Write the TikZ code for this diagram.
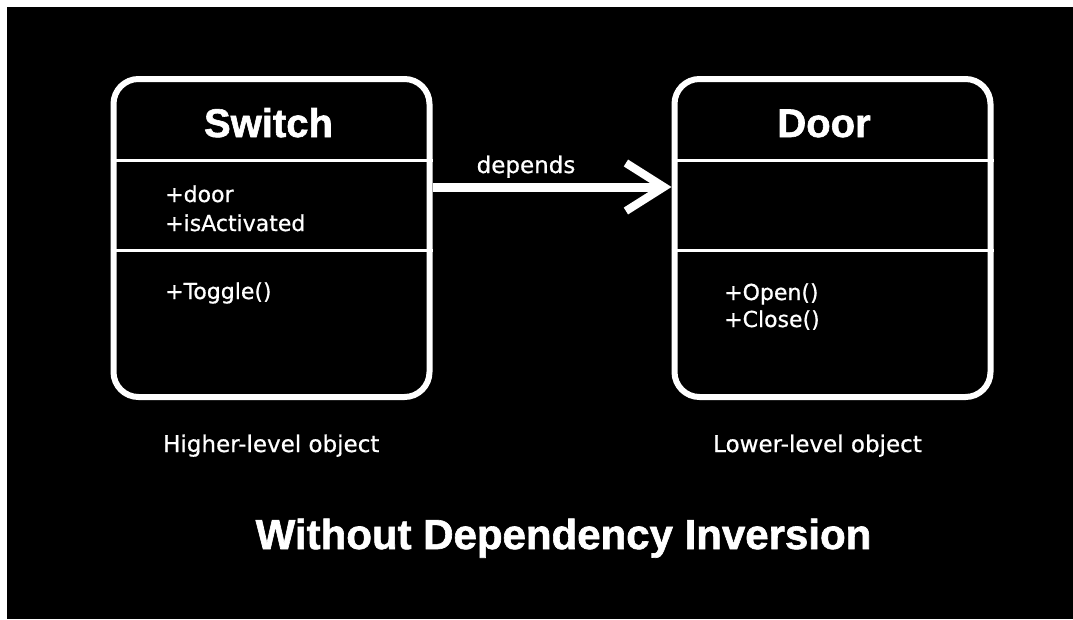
\documentclass[tikz,border=0pt]{standalone}
\usepackage{fontspec}
\setmainfont{DejaVu Sans}[UprightFeatures={FakeBold=0.7}]
\newfontfamily\headfont{Liberation Sans}[BoldFeatures={FakeBold=1.5}]
\usetikzlibrary{arrows.meta}
\tikzset{%
  tipD/.tip={Straight Barb[length=38pt 0,width=48pt 0,line width=0pt 0.9]},
  umlbox/.style={draw=white, line width=6pt, rounded corners=25pt, minimum width=316pt, minimum height=318pt, inner sep=0pt},
  divider/.style={draw=white, line width=3pt},
  boxtitle/.style={text=white, font=\headfont\bfseries\fontsize{40}{48}\selectfont, inner sep=0pt, anchor=base},
  member/.style={text=white, font=\fontsize{22}{26}\selectfont, inner sep=0pt, anchor=base west},
  caption/.style={text=white, font=\fontsize{23}{28}\selectfont, inner sep=0pt, anchor=base west}
}

\begin{document}
\begin{tikzpicture}[x=1pt,y=-1pt]
\useasboundingbox (0,0) rectangle (1073,619);
\fill[white] (0,0) rectangle (1073,619);
\fill[black] (7,7) rectangle (1073,619);
% the two classes
\node[umlbox] (sw) at (271.5,238) {};
\node[umlbox] (dr) at (832.5,238) {};
\draw[divider] (sw.west |- 0,160) -- (sw.east |- 0,160);
\draw[divider] (sw.west |- 0,250) -- (sw.east |- 0,250);
\draw[divider] (dr.west |- 0,160) -- (dr.east |- 0,160);
\draw[divider] (dr.west |- 0,250) -- (dr.east |- 0,250);
\node[boxtitle] (sw-name) at (268.5,137) {Switch};
\node[boxtitle] (dr-name) at (824,137) {Door};
\node[member] (sw-door) at (165,202) {+door};
\node[member] (sw-act) at (165,231) {+isActivated};
\node[member] (sw-toggle) at (165,299) {+Toggle()};
\node[member] (dr-open) at (724,300) {+Open()};
\node[member] (dr-close) at (724,327) {+Close()};
% dependency
\draw[white, line width=9pt, -tipD] ([yshift=51pt]sw.east) -- ([yshift=51pt]dr.west);
\node[caption, anchor=base] (dep) at (526,173) {depends};
\node[caption] (sw-level) at (163,452) {Higher-level object};
\node[caption] (dr-level) at (713,452) {Lower-level object};
\node[boxtitle, font=\headfont\bfseries\fontsize{42}{50}\selectfont] (title) at (563.5,549) {Without Dependency Inversion};
\end{tikzpicture}
\end{document}
